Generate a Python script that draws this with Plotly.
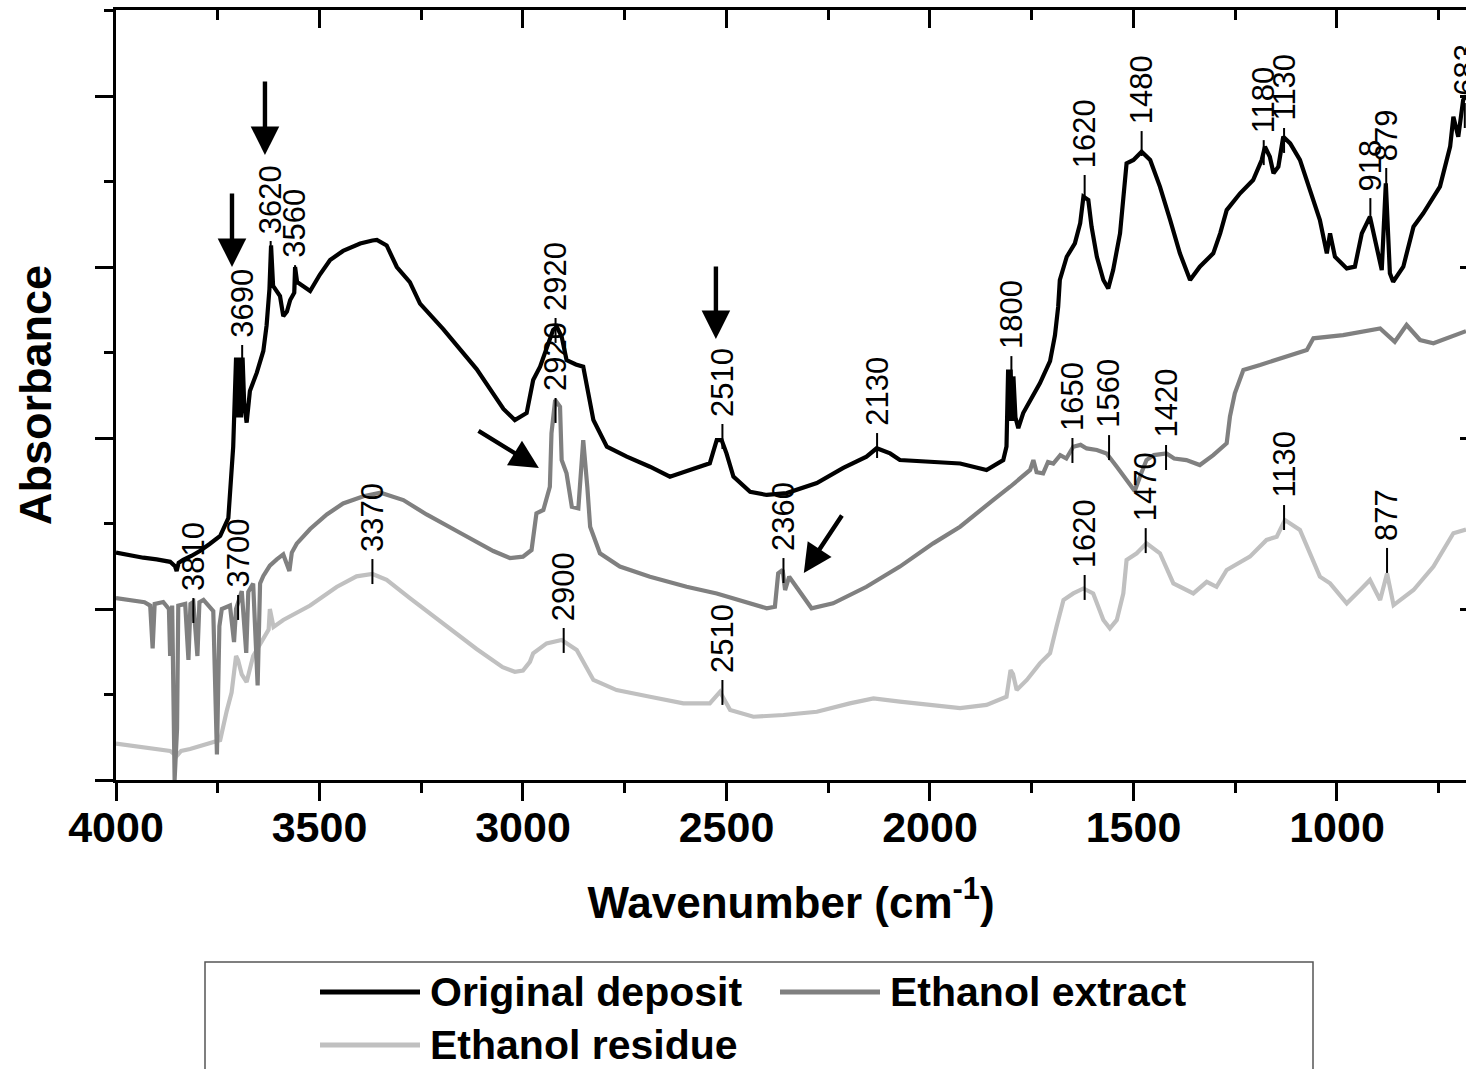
import plotly.graph_objects as go

# ---------------- data ----------------
orig_wn = [4000, 3960, 3933, 3900, 3867, 3855, 3851, 3846, 3835, 3815, 3794, 3770, 3744, 3724, 3716, 3712,
           3705, 3701, 3697, 3693, 3689, 3685, 3679, 3671, 3654, 3638, 3630, 3623, 3619, 3614, 3597, 3589,
           3580, 3572, 3562, 3560, 3555, 3523, 3499, 3474, 3442, 3400, 3370, 3359, 3335, 3310, 3278, 3253,
           3196, 3114, 3048, 3020, 2991, 2975, 2958, 2942, 2926, 2917, 2905, 2893, 2870, 2852, 2844, 2827,
           2794, 2745, 2688, 2639, 2590, 2541, 2524, 2512, 2500, 2483, 2442, 2401, 2352, 2278, 2213, 2156,
           2131, 2098, 2074, 2000, 1926, 1861, 1820, 1812, 1808, 1805, 1802, 1798, 1795, 1790, 1783, 1771,
           1754, 1730, 1705, 1693, 1685, 1681, 1664, 1644, 1631, 1623, 1611, 1603, 1590, 1574, 1562, 1550,
           1533, 1525, 1517, 1500, 1480, 1459, 1435, 1410, 1386, 1361, 1337, 1304, 1287, 1271, 1238, 1206,
           1185, 1177, 1165, 1156, 1144, 1132, 1115, 1091, 1066, 1042, 1025, 1017, 1005, 976, 956, 939,
           919, 907, 890, 880, 870, 862, 837, 812, 788, 747, 722, 714, 702, 690, 683]
orig_ab = [1.33, 1.31, 1.30, 1.29, 1.276, 1.25, 1.222, 1.27, 1.287, 1.31, 1.339, 1.38, 1.427, 1.532, 1.787, 1.95,
           2.47, 2.12, 2.47, 2.12, 2.47, 2.20, 2.09, 2.275, 2.382, 2.509, 2.658, 2.87, 3.126, 2.89, 2.83, 2.713,
           2.74, 2.807, 2.85, 3.0, 2.912, 2.86, 2.956, 3.041, 3.094, 3.137, 3.155, 3.158, 3.126, 3.0, 2.912, 2.786,
           2.637, 2.403, 2.17, 2.105, 2.146, 2.339, 2.417, 2.534, 2.632, 2.65, 2.593, 2.456, 2.43, 2.417, 2.32, 2.105,
           1.949, 1.891, 1.832, 1.774, 1.813, 1.852, 1.988, 1.988, 1.91, 1.774, 1.686, 1.667, 1.678, 1.737, 1.825, 1.891,
           1.94, 1.91, 1.871, 1.86, 1.851, 1.813, 1.871, 1.95, 2.40, 2.10, 2.40, 2.10, 2.36, 2.12, 2.058, 2.146,
           2.222, 2.32, 2.45, 2.60, 2.768, 2.924, 3.06, 3.138, 3.255, 3.411, 3.392, 3.236, 3.06, 2.924, 2.875, 2.982,
           3.197, 3.392, 3.606, 3.626, 3.674, 3.626, 3.47, 3.275, 3.08, 2.924, 3.002, 3.08, 3.197, 3.333, 3.431, 3.509,
           3.626, 3.704, 3.645, 3.548, 3.587, 3.762, 3.723, 3.626, 3.45, 3.275, 3.08, 3.197, 3.06, 2.992, 3.002, 3.197,
           3.294, 3.158, 2.982, 3.489, 2.963, 2.914, 3.002, 3.236, 3.314, 3.47, 3.704, 3.879, 3.762, 3.977, 4.0]

ext_wn = [4000, 3966, 3930, 3916, 3910, 3905, 3884, 3870, 3867, 3862, 3856, 3850, 3847, 3830, 3822, 3817,
          3810, 3800, 3795, 3785, 3761, 3752, 3746, 3740, 3720, 3710, 3705, 3691, 3680, 3675, 3663, 3652,
          3646, 3638, 3622, 3605, 3589, 3574, 3568, 3556, 3523, 3482, 3442, 3392, 3350, 3294, 3237, 3155,
          3073, 3032, 3000, 2979, 2967, 2950, 2934, 2930, 2921, 2909, 2905, 2893, 2880, 2864, 2856, 2852,
          2842, 2835, 2811, 2762, 2688, 2598, 2524, 2459, 2401, 2381, 2373, 2362, 2356, 2346, 2328, 2291,
          2238, 2156, 2074, 1992, 1926, 1877, 1845, 1803, 1754, 1746, 1738, 1722, 1710, 1697, 1680, 1665,
          1648, 1630, 1615, 1590, 1566, 1541, 1515, 1497, 1480, 1468, 1450, 1419, 1400, 1370, 1337, 1304,
          1271, 1263, 1251, 1230, 1189, 1140, 1074, 1058, 985, 894, 858, 829, 796, 763, 722, 683]
ext_ab = [1.064, 1.053, 1.04, 1.02, 0.77, 1.03, 1.041, 1.0, 0.725, 1.02, 0.0, 0.30, 1.02, 1.03, 0.702, 1.03,
          1.041, 0.725, 1.04, 1.053, 0.988, 0.149, 0.90, 1.0, 1.02, 0.807, 1.0, 1.105, 0.743, 1.10, 1.149, 0.553,
          1.15, 1.193, 1.254, 1.29, 1.319, 1.222, 1.33, 1.382, 1.468, 1.553, 1.617, 1.659, 1.68, 1.637, 1.553, 1.446,
          1.339, 1.298, 1.306, 1.345, 1.559, 1.579, 1.715, 2.027, 2.222, 2.183, 1.871, 1.793, 1.598, 1.589, 1.832, 1.988,
          1.715, 1.481, 1.326, 1.248, 1.189, 1.13, 1.091, 1.042, 1.004, 1.013, 1.208, 1.228, 1.111, 1.189, 1.13, 1.004,
          1.033, 1.13, 1.248, 1.384, 1.481, 1.58, 1.637, 1.715, 1.813, 1.871, 1.80, 1.793, 1.86, 1.851, 1.90, 1.88,
          1.949, 1.96, 1.939, 1.93, 1.91, 1.832, 1.75, 1.69, 1.80, 1.871, 1.90, 1.91, 1.88, 1.871, 1.842, 1.90,
          1.969, 2.125, 2.261, 2.398, 2.427, 2.466, 2.515, 2.583, 2.602, 2.641, 2.563, 2.661, 2.573, 2.554, 2.593, 2.625]

res_wn = [4000, 3933, 3867, 3851, 3840, 3818, 3769, 3744, 3728, 3716, 3705, 3700, 3691, 3679, 3663, 3638,
          3625, 3622, 3613, 3589, 3523, 3458, 3409, 3370, 3335, 3278, 3196, 3114, 3050, 3020, 3000, 2983,
          2975, 2942, 2905, 2868, 2827, 2770, 2688, 2606, 2541, 2516, 2491, 2434, 2360, 2278, 2197, 2139,
          2074, 1992, 1926, 1861, 1812, 1802, 1796, 1787, 1762, 1730, 1705, 1689, 1672, 1648, 1623, 1599,
          1574, 1558, 1541, 1525, 1517, 1492, 1468, 1435, 1402, 1353, 1320, 1296, 1271, 1214, 1173, 1148,
          1128, 1091, 1066, 1042, 1017, 976, 943, 919, 894, 877, 861, 812, 763, 714, 683]
res_ab = [0.213, 0.193, 0.17, 0.14, 0.17, 0.181, 0.213, 0.234, 0.403, 0.511, 0.725, 0.70, 0.617, 0.573, 0.725, 0.83,
          0.88, 1.0, 0.895, 0.936, 1.02, 1.129, 1.191, 1.205, 1.17, 1.064, 0.915, 0.766, 0.66, 0.633, 0.64, 0.691,
          0.741, 0.799, 0.819, 0.76, 0.585, 0.526, 0.487, 0.448, 0.448, 0.516, 0.409, 0.37, 0.38, 0.399, 0.448, 0.477,
          0.458, 0.439, 0.42, 0.439, 0.487, 0.643, 0.62, 0.526, 0.585, 0.682, 0.741, 0.897, 1.053, 1.091, 1.12, 1.091,
          0.936, 0.887, 0.936, 1.091, 1.287, 1.326, 1.384, 1.326, 1.15, 1.091, 1.159, 1.13, 1.228, 1.306, 1.404, 1.423,
          1.52, 1.462, 1.326, 1.189, 1.15, 1.033, 1.111, 1.17, 1.053, 1.208, 1.023, 1.111, 1.248, 1.443, 1.465]

# peak labels: text, wavenumber, absorbance level of the marker foot
peak_text = ["3690", "3620", "3560", "2920", "2510", "2130", "1800", "1620", "1480", "1180", "1130", "918", "879", "683",
             "3810", "3700", "2920", "2360", "1650", "1560", "1420",
             "3370", "2900", "2510", "1620", "1470", "1130", "877"]
peak_wn = [3690, 3620, 3560, 2920, 2510, 2130, 1800, 1620, 1480, 1180, 1130, 918, 879, 686,
           3810, 3700, 2920, 2360, 1650, 1560, 1420,
           3370, 2900, 2510, 1620, 1470, 1130, 877]
peak_ab = [2.398, 3.006, 2.865, 2.556, 1.936, 1.883, 2.333, 3.392, 3.649, 3.596, 3.667, 3.257, 3.433, 3.813,
           0.918, 0.936, 2.088, 1.152, 1.854, 1.871, 1.813,
           1.146, 0.743, 0.439, 1.053, 1.327, 1.462, 1.211]

# pointer arrows (tail -> head)
arrow_tail_wn = [3715, 3634, 2526, 3113, 2214]
arrow_tail_ab = [3.439, 4.094, 3.012, 2.047, 1.556]
arrow_head_wn = [3715, 3634, 2526, 2961, 2310]
arrow_head_ab = [3.0, 3.655, 2.579, 1.825, 1.211]

series_names = ["Original deposit", "Ethanol extract", "Ethanol residue"]
series_colors = ["#000000", "#808080", "#c0c0c0"]

# ---------------- figure ----------------
FONT = "Liberation Sans, Arial, sans-serif"
W, H = 1466, 1069
ML, MR, MT, MB = 116, 0, 10, 289
PW, PH = W - ML - MR, H - MT - MB
YMAX = 4.503
MARK_LEN = 0.146  # marker length in absorbance units

fig = go.Figure()
for wn, ab, name, col in [(res_wn, res_ab, series_names[2], series_colors[2]),
                          (ext_wn, ext_ab, series_names[1], series_colors[1]),
                          (orig_wn, orig_ab, series_names[0], series_colors[0])]:
    fig.add_trace(go.Scatter(x=wn, y=ab, mode="lines", name=name,
                             line=dict(color=col, width=4.2), showlegend=False))

# peak marker ticks
mx, my = [], []
for w, a in zip(peak_wn, peak_ab):
    mx += [w, w, None]
    my += [a, a + MARK_LEN, None]
fig.add_trace(go.Scatter(x=mx, y=my, mode="lines", line=dict(color="black", width=2),
                         showlegend=False, hoverinfo="skip"))

# helper trace for top / right axes
fig.add_trace(go.Scatter(x=[None], y=[None], xaxis="x2", yaxis="y2", showlegend=False, hoverinfo="skip"))

annotations = []
for t, w, a in zip(peak_text, peak_wn, peak_ab):
    annotations.append(dict(x=w, y=a + MARK_LEN, xref="x", yref="y", text=t, showarrow=False,
                            textangle=-90, xanchor="center", yanchor="bottom", yshift=5,
                            font=dict(family=FONT, size=31, color="black")))
for tw, ta, hw, ha in zip(arrow_tail_wn, arrow_tail_ab, arrow_head_wn, arrow_head_ab):
    annotations.append(dict(x=hw, y=ha, ax=tw, ay=ta, xref="x", yref="y", axref="x", ayref="y",
                            text="", showarrow=True, arrowhead=2, arrowsize=1.3, arrowwidth=4.4,
                            arrowcolor="black", standoff=0))

# custom legend
def px_x(px):
    return (px - ML) / PW

def px_y(py):
    return (H - MB - py) / PH

legend_rows = [(320, 992), (780, 992), (320, 1045)]
legend_order = [0, 1, 2]
shapes = [dict(type="rect", xref="paper", yref="paper", x0=px_x(205), x1=px_x(1313),
               y0=px_y(962), y1=px_y(1090), line=dict(color="#555555", width=1.5), fillcolor="white")]
for (lx, ly), idx in zip(legend_rows, legend_order):
    shapes.append(dict(type="line", xref="paper", yref="paper", x0=px_x(lx), x1=px_x(lx + 100),
                       y0=px_y(ly), y1=px_y(ly), line=dict(color=series_colors[idx], width=5)))
    annotations.append(dict(x=px_x(lx + 108), y=px_y(ly), xref="paper", yref="paper",
                            text="<b>" + series_names[idx] + "</b>", showarrow=False,
                            xanchor="left", yanchor="middle",
                            font=dict(family=FONT, size=41, color="black")))

axis_common = dict(showgrid=False, zeroline=False, linecolor="black", linewidth=3,
                   tickcolor="black", tickwidth=3)

fig.update_layout(
    width=W, height=H, margin=dict(l=ML, r=MR, t=MT, b=MB, autoexpand=False),
    paper_bgcolor="white", plot_bgcolor="white",
    font=dict(family=FONT, color="black"),
    showlegend=False,
    xaxis=dict(range=[4000, 683], dtick=500, tick0=0, ticks="outside", ticklen=18,
               showline=True, automargin=False, ticklabelstandoff=-11,
               minor=dict(dtick=250, ticks="outside", ticklen=10, tickwidth=3, tickcolor="black"),
               tickfont=dict(family=FONT, size=43, weight="bold", color="black"),
               title=dict(text="<b>Wavenumber (cm<sup>-1</sup>)</b>", standoff=38,
                          font=dict(family=FONT, size=44, color="black")),
               **axis_common),
    xaxis2=dict(range=[4000, 683], overlaying="x", side="top", dtick=500, tick0=0,
                ticks="inside", ticklen=18, showline=True, showticklabels=False,
                minor=dict(dtick=250, ticks="inside", ticklen=10, tickwidth=3, tickcolor="black"),
                **axis_common),
    yaxis=dict(range=[0, YMAX], dtick=1, tick0=0, ticks="outside", ticklen=18,
               showline=True, showticklabels=False, automargin=False,
               minor=dict(dtick=0.5, ticks="outside", ticklen=9, tickwidth=3, tickcolor="black"),
               title=dict(text="<b>Absorbance</b>", standoff=30,
                          font=dict(family=FONT, size=45, color="black")),
               **axis_common),
    yaxis2=dict(range=[0, YMAX], overlaying="y", side="right", dtick=1, tick0=0,
                ticks="inside", ticklen=6, showline=False, showticklabels=False,
                showgrid=False, zeroline=False, tickcolor="black", tickwidth=3),
    annotations=annotations,
    shapes=shapes,
)

fig.write_html("out.html")
